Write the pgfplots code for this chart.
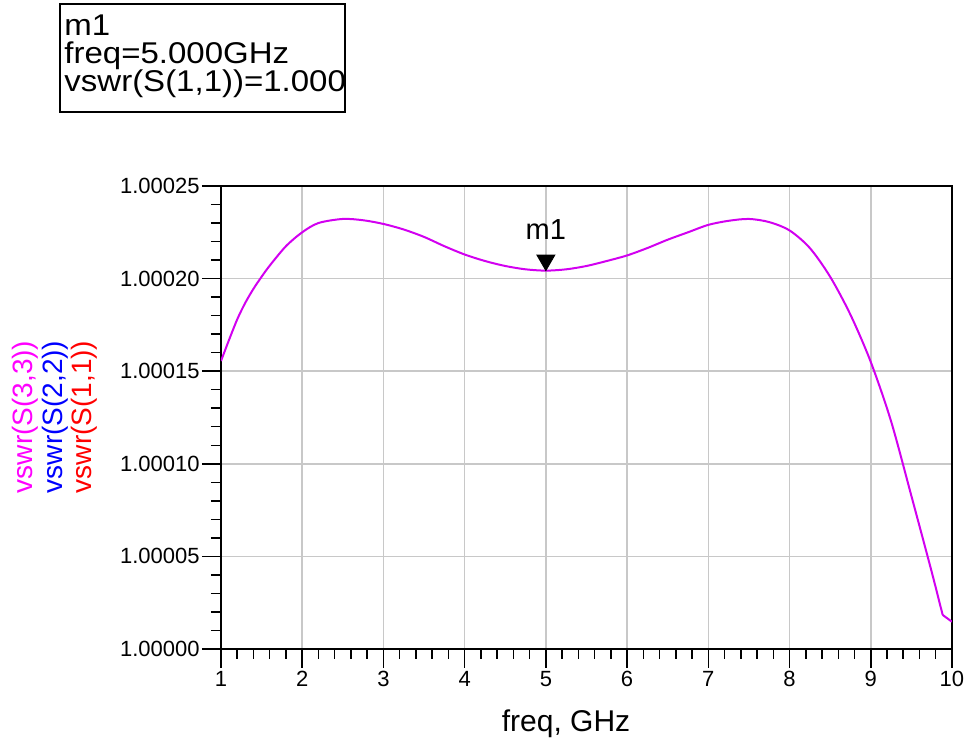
\documentclass[border=0pt]{standalone}
\usepackage{fontspec}
\setmainfont{Liberation Sans}
\usepackage{pgfplots}
\pgfplotsset{compat=1.18}
\definecolor{trace}{RGB}{210,0,240}
\definecolor{gridgray}{RGB}{200,200,200}
\definecolor{lblmag}{RGB}{255,0,255}
\definecolor{lblblue}{RGB}{0,0,255}
\definecolor{lblred}{RGB}{255,0,0}

\begin{document}
\begin{tikzpicture}[x=1pt,y=1pt]
% 1px of the reference = 0.5pt
\path[use as bounding box] (-110.5,-49) rectangle (372.5,324.5);
\begin{axis}[
    at={(0,0)}, anchor=south west,
    scale only axis,
    width=365.5pt, height=231.5pt,
    xmin=1, xmax=10, ymin=0, ymax=25,
    xtick={1,...,10},
    ytick={0,5,10,15,20,25},
    yticklabels={1.00000,1.00005,1.00010,1.00015,1.00020,1.00025},
    minor x tick num=4, minor y tick num=4,
    tick pos=left,
    tick align=outside,
    major tick length=9.5pt, minor tick length=5pt,
    tick style={black, line width=0.75pt},
    grid=major,
    major grid style={gridgray, line width=0.75pt},
    axis line style={line width=0.75pt},
    ticklabel style={font=\fontsize{11}{13}\selectfont},
    yticklabel style={inner sep=1pt},
    xticklabel style={inner sep=1.5pt},
    /pgf/number format/assume math mode=true,
    xlabel={freq, GHz},
    xlabel style={at={(axis description cs:0.472,0)}, anchor=base, yshift=-41.5pt,
                  font=\fontsize{15}{18}\selectfont},
]
\addplot[trace, line width=1pt, smooth] coordinates {
(1.0,15.55) (1.1,16.7) (1.2,17.8) (1.3,18.7) (1.4,19.45) (1.5,20.1)
(1.6,20.7) (1.8,21.75) (2.0,22.5) (2.2,23.0) (2.5,23.22) (2.75,23.15)
(3.0,22.95) (3.25,22.65) (3.5,22.25) (3.75,21.75) (4.0,21.3) (4.25,20.95)
(4.5,20.68) (4.75,20.5) (5.0,20.43) (5.25,20.5) (5.5,20.68) (5.75,20.95)
(6.0,21.25) (6.25,21.65) (6.5,22.1) (6.75,22.5) (7.0,22.9) (7.25,23.12)
(7.5,23.22) (7.75,23.05) (8.0,22.6) (8.25,21.65) (8.5,20.1) (8.75,18.05)
(9.0,15.5) (9.25,12.3) (9.5,8.27) (9.75,4.17) (9.885,1.84)
};
\addplot[trace, line width=1pt] coordinates {(9.885,1.84) (10.0,1.47)};
\addplot[only marks, mark=triangle*, mark size=5.2pt,
    mark options={black, fill=black, yshift=5.2pt, rotate=180},
    nodes near coords={m1},
    every node near coord/.style={anchor=base, yshift=10.3pt, text=black,
        inner sep=0pt, font=\fontsize{14.5}{17}\selectfont}]
    coordinates {(5,20.43)};
\end{axis}
% marker readout box
\draw[line width=0.6pt] (-80.5,268.5) rectangle (62,322.5);
\begin{scope}[every node/.style={anchor=base west, inner sep=0pt, xscale=1.1,
    font=\fontsize{15}{17}\selectfont}]
\node at (-78.5,306.5) {m1};
\node at (-78.5,292.5) {freq=5.000GHz};
\node at (-78.5,278.7) {vswr(S(1,1))=1.000};
\end{scope}
% stacked y labels
\begin{scope}[every node/.style={anchor=base, rotate=90, inner sep=0pt, font=\fontsize{14}{16}\selectfont}]
\node[text=lblmag]  at (-94,116) {vswr(S(3,3))};
\node[text=lblblue] at (-79,116) {vswr(S(2,2))};
\node[text=lblred]  at (-64.5,116) {vswr(S(1,1))};
\end{scope}
\end{tikzpicture}
\end{document}
